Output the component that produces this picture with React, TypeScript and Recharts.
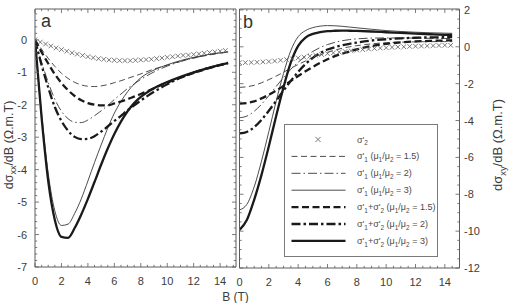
import React from 'react';
import { LineChart, Line, XAxis, YAxis, Legend } from 'recharts';

const W = 510;
const H = 303;
const FONT = '"Liberation Sans", Arial, Helvetica, sans-serif';
const FRAME = '#5c5c5c';
const LABEL = '#3c3c3c';

// ---- magnetic field samples (T) ----
const fieldA = [0, 0.5, 1, 1.5, 2, 2.5, 3, 3.5, 4, 4.5, 5, 5.5, 6, 6.5, 7, 7.5, 8, 9, 10, 11, 12, 13, 14, 14.6];
const fieldB = [0, 0.5, 1, 1.5, 2, 2.5, 3, 3.5, 4, 4.5, 5, 5.5, 6, 6.5, 7, 7.5, 8, 9, 10, 11, 12, 13, 14, 14.5];
const crossField = [0, 0.4, 0.8, 1.2, 1.6, 2, 2.4, 2.8, 3.2, 3.6, 4, 4.4, 4.8, 5.2, 5.6, 6, 6.4, 6.8, 7.2, 7.6, 8, 8.4, 8.8, 9.2, 9.6, 10, 10.4, 10.8, 11.2, 11.6, 12, 12.4, 12.8, 13.2, 13.6, 14, 14.4];

// ---- (a) dσxx/dB ----
const xxSigma2 = [0, -0.07, -0.13, -0.19, -0.25, -0.3, -0.35, -0.4, -0.44, -0.48, -0.52, -0.55, -0.58, -0.6, -0.62, -0.63, -0.64, -0.64, -0.64, -0.63, -0.62, -0.61, -0.6, -0.58, -0.56, -0.54, -0.52, -0.5, -0.48, -0.47, -0.45, -0.43, -0.41, -0.39, -0.37, -0.35, -0.33];
const xxS1r15 = [0, -0.29, -0.57, -0.82, -1.03, -1.19, -1.31, -1.39, -1.43, -1.44, -1.42, -1.38, -1.32, -1.26, -1.19, -1.12, -1.05, -0.9, -0.78, -0.66, -0.56, -0.48, -0.41, -0.38];
const xxS1r2 = [0, -0.69, -1.31, -1.83, -2.2, -2.43, -2.54, -2.55, -2.47, -2.34, -2.19, -2.02, -1.84, -1.67, -1.5, -1.36, -1.22, -0.99, -0.81, -0.67, -0.56, -0.47, -0.4, -0.37];
const xxS1r3 = [0, -2.28, -4.12, -5.27, -5.72, -5.68, -5.35, -4.9, -4.35, -3.78, -3.24, -2.72, -2.26, -1.9, -1.6, -1.36, -1.17, -0.93, -0.77, -0.64, -0.54, -0.46, -0.4, -0.37];
const xxSumR15 = [0, -0.38, -0.73, -1.06, -1.33, -1.55, -1.73, -1.86, -1.95, -2.0, -2.02, -2.02, -1.96, -1.9, -1.83, -1.75, -1.67, -1.49, -1.32, -1.16, -1.02, -0.89, -0.78, -0.72];
const xxSumR2 = [0, -0.78, -1.47, -2.07, -2.5, -2.8, -2.99, -3.06, -3.05, -2.97, -2.83, -2.67, -2.5, -2.34, -2.17, -2.02, -1.87, -1.6, -1.37, -1.17, -1.01, -0.88, -0.77, -0.71];
const xxSumR3 = [0, -2.4, -4.35, -5.55, -6.07, -6.1, -5.8, -5.38, -4.9, -4.38, -3.85, -3.35, -2.9, -2.52, -2.2, -1.95, -1.76, -1.49, -1.3, -1.14, -1.0, -0.88, -0.77, -0.72];

// ---- (b) dσxy/dB ----
const xySigma2 = [-0.86, -0.86, -0.85, -0.84, -0.82, -0.8, -0.77, -0.73, -0.69, -0.65, -0.6, -0.56, -0.51, -0.46, -0.42, -0.37, -0.33, -0.29, -0.25, -0.21, -0.18, -0.15, -0.12, -0.09, -0.07, -0.05, -0.03, -0.01, 0, 0.02, 0.03, 0.04, 0.05, 0.06, 0.07, 0.08, 0.08];
const xyS1r15 = [-2.2, -2.17, -2.09, -1.95, -1.78, -1.59, -1.38, -1.16, -0.96, -0.77, -0.59, -0.44, -0.3, -0.18, -0.08, 0, 0.06, 0.16, 0.22, 0.25, 0.27, 0.28, 0.28, 0.28];
const xyS1r2 = [-3.85, -3.76, -3.5, -3.12, -2.65, -2.15, -1.67, -1.22, -0.84, -0.51, -0.25, -0.04, 0.12, 0.24, 0.33, 0.39, 0.43, 0.47, 0.48, 0.48, 0.47, 0.46, 0.45, 0.45];
const xyS1r3 = [-8.85, -8.55, -7.6, -6.2, -4.6, -2.95, -1.45, -0.2, 0.55, 0.88, 1.04, 1.12, 1.15, 1.14, 1.11, 1.07, 1.03, 0.95, 0.88, 0.83, 0.79, 0.76, 0.74, 0.73];
const xySumR15 = [-3.08, -3.05, -2.96, -2.8, -2.6, -2.37, -2.12, -1.85, -1.58, -1.33, -1.09, -0.87, -0.68, -0.51, -0.37, -0.25, -0.14, 0.04, 0.16, 0.24, 0.29, 0.32, 0.34, 0.35];
const xySumR2 = [-4.7, -4.62, -4.36, -3.96, -3.47, -2.93, -2.38, -1.85, -1.36, -0.94, -0.6, -0.34, -0.15, -0.02, 0.08, 0.16, 0.23, 0.34, 0.41, 0.46, 0.49, 0.51, 0.52, 0.53];
const xySumR3 = [-9.93, -9.4, -8.3, -6.95, -5.4, -3.75, -2.2, -0.85, 0.05, 0.5, 0.7, 0.8, 0.85, 0.87, 0.88, 0.87, 0.86, 0.83, 0.79, 0.75, 0.71, 0.68, 0.65, 0.64];

// ---- legend labels ('_' puts the next character in subscript) ----
const legendLabels = [
  "σ'_2",
  "σ'_1 (μ_1/μ_2 = 1.5)",
  "σ'_1 (μ_1/μ_2 = 2)",
  "σ'_1 (μ_1/μ_2 = 3)",
  "σ'_1+σ'_2 (μ_1/μ_2 = 1.5)",
  "σ'_1+σ'_2 (μ_1/μ_2 = 2)",
  "σ'_1+σ'_2 (μ_1/μ_2 = 3)",
];

type LineStyle = { stroke: string; width: number; dash?: string };
const thinDash: LineStyle = { stroke: '#383838', width: 0.9, dash: '6 3.5' };
const thinDashDot: LineStyle = { stroke: '#383838', width: 0.9, dash: '9 3 1.5 3' };
const thinSolid: LineStyle = { stroke: '#383838', width: 0.9 };
const thickDash: LineStyle = { stroke: '#1a1a1a', width: 2.3, dash: '7 3.5' };
const thickDashDot: LineStyle = { stroke: '#1a1a1a', width: 2.3, dash: '9 3 2.5 3' };
const thickSolid: LineStyle = { stroke: '#1a1a1a', width: 2.3 };
const lineStyles = [thinDash, thinDashDot, thinSolid, thickDash, thickDashDot, thickSolid];

const zip = (xs: number[], ys: number[]) => xs.map((B, i) => ({ B, v: ys[i] }));

const seriesA = [xxS1r15, xxS1r2, xxS1r3, xxSumR15, xxSumR2, xxSumR3].map((ys) => zip(fieldA, ys));
const seriesB = [xyS1r15, xyS1r2, xyS1r3, xySumR15, xySumR2, xySumR3].map((ys) => zip(fieldB, ys));
const crossA = zip(crossField, xxSigma2);
const crossB = zip(crossField, xySigma2);

const range = (a: number, b: number, step: number) => {
  const out: number[] = [];
  for (let v = a; v <= b + 1e-9; v += step) out.push(Math.round(v * 1000) / 1000);
  return out;
};
const isMultiple = (v: number, step: number) => Math.abs(v / step - Math.round(v / step)) < 1e-6;

const xTicksA = range(0, 15, 0.5);
const xTicksB = range(0, 14.5, 0.5);
const yTicksA = range(-7, 0.8, 0.2);
const yTicksB = range(-12, 2, 0.5);

const frameLine = { stroke: FRAME, strokeWidth: 1 };

// ---- tick renderers: marks point into the plot, labels sit outside ----
const xTick = (side: 'bottom' | 'top', withLabels: boolean) => (props: any) => {
  const { x, y, payload } = props;
  const v = payload.value as number;
  const major = isMultiple(v, 2);
  const len = major ? 4 : 2.2;
  const dir = side === 'bottom' ? -1 : 1;
  return (
    <g>
      <line x1={x} x2={x} y1={y} y2={y + dir * len} stroke={FRAME} strokeWidth={0.8} />
      {withLabels && major && (
        <text x={x} y={y + 18} textAnchor="middle" fontSize={11} fontFamily={FONT} fill={LABEL}>
          {v}
        </text>
      )}
    </g>
  );
};

const yTick = (side: 'left' | 'right', majorStep: number, withLabels: boolean) => (props: any) => {
  const { x, y, payload } = props;
  const v = payload.value as number;
  const major = isMultiple(v, majorStep);
  const len = major ? 4 : 2.2;
  const dir = side === 'left' ? 1 : -1;
  return (
    <g>
      <line x1={x} x2={x + dir * len} y1={y} y2={y} stroke={FRAME} strokeWidth={0.8} />
      {withLabels && major && (
        <text
          x={side === 'left' ? x - 8 : x + 4.5}
          y={y + 4}
          textAnchor={side === 'left' ? 'end' : 'start'}
          fontSize={11}
          fontFamily={FONT}
          fill={LABEL}
        >
          {v}
        </text>
      )}
    </g>
  );
};

const CrossMark = ({ cx, cy, r = 2.3 }: { cx?: number; cy?: number; r?: number }) => {
  if (cx == null || cy == null) return null;
  return (
    <path
      d={`M${cx - r},${cy - r}L${cx + r},${cy + r}M${cx - r},${cy + r}L${cx + r},${cy - r}`}
      stroke="#5a5a5a"
      strokeWidth={0.8}
      fill="none"
    />
  );
};

const crossDot = (p: any) => <CrossMark key={`x${p.index}`} cx={p.cx} cy={p.cy} />;

// text with single-character subscripts marked by '_'
function richText(s: string, base: number) {
  const subSize = base * 0.72;
  const shift = base * 0.3;
  const nodes: React.ReactNode[] = [];
  let buf = '';
  let lowered = false;
  let k = 0;
  const flush = () => {
    if (!buf) return;
    nodes.push(
      <tspan key={k++} dy={lowered ? -shift : undefined}>
        {buf}
      </tspan>
    );
    lowered = false;
    buf = '';
  };
  for (let i = 0; i < s.length; i++) {
    if (s[i] === '_' && i + 1 < s.length) {
      flush();
      nodes.push(
        <tspan key={k++} fontSize={subSize} dy={lowered ? undefined : shift}>
          {s[i + 1]}
        </tspan>
      );
      lowered = true;
      i++;
    } else {
      buf += s[i];
    }
  }
  flush();
  return nodes;
}

const LegendPanel = () => {
  const w = 154;
  const h = 134;
  const rowY = (i: number) => 15.5 + i * 16.9;
  return (
    <svg width={w} height={h} style={{ display: 'block', overflow: 'visible' }}>
      <rect x={0.5} y={0.5} width={w - 1} height={h - 2} fill="#fff" stroke="#7a7a7a" strokeWidth={1} />
      {legendLabels.map((label, i) => {
        const y = rowY(i);
        const st = i > 0 ? lineStyles[i - 1] : null;
        return (
          <g key={label}>
            {st ? (
              <line x1={7.5} x2={61.5} y1={y} y2={y} stroke={st.stroke} strokeWidth={st.width} strokeDasharray={st.dash} />
            ) : (
              <CrossMark cx={34} cy={y} r={2.6} />
            )}
            <text x={73} y={y + 3} fontSize={9} fontFamily={FONT} fill="#4a4a4a" style={{ whiteSpace: 'pre' }}>
              {richText(label, 9)}
            </text>
          </g>
        );
      })}
    </svg>
  );
};

const renderLines = (series: { B: number; v: number }[][], prefix: string) =>
  series.map((d, i) => {
    const st = lineStyles[i];
    return (
      <Line
        key={`${prefix}${i}`}
        data={d}
        dataKey="v"
        type="monotone"
        stroke={st.stroke}
        strokeWidth={st.width}
        strokeDasharray={st.dash}
        dot={false}
        activeDot={false}
        isAnimationActive={false}
      />
    );
  });

// each axis takes a 1px band; margins are set so the plot frames land on the panel edges
const AX = 1;

export default function App() {
  return (
    <div style={{ position: 'absolute', left: 0, top: 0, width: W, height: H, background: '#fff', overflow: 'hidden' }}>
      {/* panel a: dσxx/dB */}
      <div style={{ position: 'absolute', left: 0, top: 0 }}>
        <LineChart width={W} height={H} margin={{ top: 9 - AX, right: W - 236 - AX, bottom: H - 267 - AX, left: 35 - AX }}>
          <XAxis
            dataKey="B"
            type="number"
            domain={[0, 15.2]}
            allowDataOverflow
            ticks={xTicksA}
            interval={0}
            height={AX}
            tickSize={0}
            tickMargin={0}
            tickLine={false}
            axisLine={frameLine}
            tick={xTick('bottom', true)}
          />
          <XAxis
            xAxisId="top"
            orientation="top"
            dataKey="B"
            type="number"
            domain={[0, 15.2]}
            allowDataOverflow
            ticks={xTicksA}
            interval={0}
            height={AX}
            tickSize={0}
            tickMargin={0}
            tickLine={false}
            axisLine={frameLine}
            tick={xTick('top', false)}
          />
          <YAxis
            type="number"
            domain={[-7, 0.95]}
            allowDataOverflow
            ticks={yTicksA}
            interval={0}
            width={AX}
            tickSize={0}
            tickMargin={0}
            tickLine={false}
            axisLine={frameLine}
            tick={yTick('left', 1, true)}
          />
          <YAxis
            yAxisId="r"
            orientation="right"
            type="number"
            domain={[-7, 0.95]}
            allowDataOverflow
            ticks={yTicksA}
            interval={0}
            width={AX}
            tickSize={0}
            tickMargin={0}
            tickLine={false}
            axisLine={frameLine}
            tick={yTick('right', 1, false)}
          />
          <Line
            data={crossA}
            dataKey="v"
            stroke="transparent"
            strokeWidth={0}
            dot={crossDot}
            activeDot={false}
            isAnimationActive={false}
          />
          {renderLines(seriesA, 'a')}
        </LineChart>
      </div>

      {/* panel b: dσxy/dB */}
      <div style={{ position: 'absolute', left: 0, top: 0 }}>
        <LineChart width={W} height={H} margin={{ top: 9 - AX, right: W - 459.5 - AX, bottom: H - 268 - AX, left: 239.5 - AX }}>
          <XAxis
            dataKey="B"
            type="number"
            domain={[0, 15]}
            allowDataOverflow
            ticks={xTicksB}
            interval={0}
            height={AX}
            tickSize={0}
            tickMargin={0}
            tickLine={false}
            axisLine={frameLine}
            tick={xTick('bottom', true)}
          />
          <XAxis
            xAxisId="top"
            orientation="top"
            dataKey="B"
            type="number"
            domain={[0, 15]}
            allowDataOverflow
            ticks={xTicksB}
            interval={0}
            height={AX}
            tickSize={0}
            tickMargin={0}
            tickLine={false}
            axisLine={frameLine}
            tick={xTick('top', false)}
          />
          <YAxis
            orientation="right"
            type="number"
            domain={[-12, 2.05]}
            allowDataOverflow
            ticks={yTicksB}
            interval={0}
            width={AX}
            tickSize={0}
            tickMargin={0}
            tickLine={false}
            axisLine={frameLine}
            tick={yTick('right', 2, true)}
          />
          <YAxis
            yAxisId="l"
            orientation="left"
            type="number"
            domain={[-12, 2.05]}
            allowDataOverflow
            ticks={yTicksB}
            interval={0}
            width={AX}
            tickSize={0}
            tickMargin={0}
            tickLine={false}
            axisLine={frameLine}
            tick={yTick('left', 2, false)}
          />
          <Line
            data={crossB}
            dataKey="v"
            stroke="transparent"
            strokeWidth={0}
            dot={crossDot}
            activeDot={false}
            isAnimationActive={false}
          />
          {renderLines(seriesB, 'b')}
          <Legend
            layout="vertical"
            align="center"
            verticalAlign="middle"
            wrapperStyle={{ left: 284, top: 124, width: 154, height: 134 }}
            content={() => <LegendPanel />}
          />
        </LineChart>
      </div>

      {/* panel letters and axis titles */}
      <svg width={W} height={H} style={{ position: 'absolute', left: 0, top: 0, pointerEvents: 'none' }}>
        <text x={41} y={26.5} fontSize={18} fontFamily={FONT} fill="#333">a</text>
        <text x={243} y={27.5} fontSize={18} fontFamily={FONT} fill="#333">b</text>
        <text
          transform="translate(12.5, 145) rotate(-90)"
          textAnchor="middle"
          fontSize={12.5}
          fontFamily={FONT}
          fill={LABEL}
          style={{ whiteSpace: 'pre' }}
        >
          {richText('dσ_x_x/dB (Ω.m.T)', 12.5)}
        </text>
        <text
          transform="translate(502, 145) rotate(-90)"
          textAnchor="middle"
          fontSize={13}
          fontFamily={FONT}
          fill={LABEL}
          style={{ whiteSpace: 'pre' }}
        >
          {richText('dσ_x_y/dB (Ω.m.T)', 13)}
        </text>
        <text x={235.5} y={300.5} textAnchor="middle" fontSize={12} fontFamily={FONT} fill={LABEL}>
          B (T)
        </text>
      </svg>
    </div>
  );
}
